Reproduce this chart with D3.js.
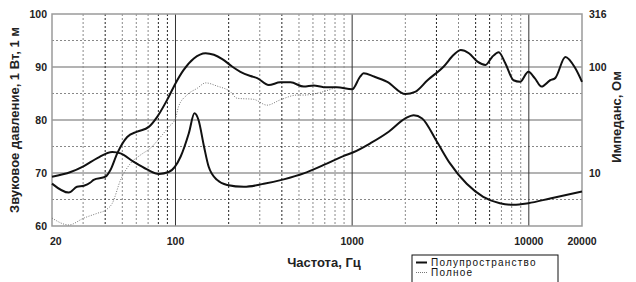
<!DOCTYPE html>
<html>
<head>
<meta charset="utf-8">
<script src="https://cdn.jsdelivr.net/npm/d3@7"></script>
<style>
  body { margin: 0; background: #fff; }
  svg { display: block; font-family: "Liberation Sans", Arial, sans-serif; }
</style>
</head>
<body>
<svg id="chart" width="636" height="282"></svg>
<script>

// frequency response, half-space (Hz, dB)
const halfFreq = [20, 24.9, 27.7, 30.3, 33, 34.4, 40.2, 42.9, 46.8, 53.3, 60.7, 70.6, 78.8, 89.7, 100, 111, 127, 148, 165, 184, 209, 233, 266, 290, 337, 392, 448, 532, 606, 690, 820, 1000, 1110, 1160, 1330, 1580, 2000, 2270, 2670, 3300, 3760, 4120, 4580, 5120, 5690, 6200, 6760, 7360, 8190, 8920, 9940, 10800, 11800, 13200, 14100, 16100, 18300, 20000]
const halfSpl = [68, 66.3, 67.4, 67.6, 68.2, 68.7, 69.3, 70.6, 73.7, 76.8, 77.8, 78.7, 80.6, 83.8, 86.9, 89.4, 91.6, 92.6, 92.3, 91.5, 90.1, 89.1, 88.3, 87.9, 86.6, 87.1, 87.1, 86.3, 86.5, 86.2, 86.2, 85.8, 88.2, 88.8, 88.2, 87.2, 84.9, 85.3, 87.5, 90.1, 92.3, 93.2, 92.6, 91, 90.4, 91.9, 92.8, 90.7, 87.5, 87.2, 89.1, 87.9, 86.3, 87.5, 87.9, 91.9, 89.8, 87.2]

// frequency response, full space (Hz, dB)
const fullFreq = [20, 24.9, 30.3, 36.1, 40.2, 43.9, 48.9, 55.6, 63.4, 72.2, 82.3, 91.6, 100, 104, 116, 133, 148, 172, 205, 223, 277, 330, 392, 488, 532, 660, 820]
const fullSpl = [61.5, 60.2, 61.5, 62.4, 63, 64.3, 68.7, 71.8, 73.4, 74.7, 76.8, 78.7, 80.3, 82.5, 84.7, 86, 87, 86.4, 85.3, 84.1, 83.9, 82.8, 83.8, 84.7, 84.7, 85.2, 86.2]

// impedance (Hz, Ohm)
const impFreq = [20, 25.5, 30.3, 36.1, 43.9, 48.9, 58.1, 69, 80.5, 91.6, 107, 119, 128, 135, 145, 154, 172, 196, 244, 316, 410, 532, 690, 897, 1000, 1270, 1610, 2000, 2230, 2490, 3020, 3580, 4450, 5520, 6860, 8190, 9940, 13200, 20000]
const impOhm = [9.2, 10.2, 11.6, 13.8, 15.8, 15.3, 12.7, 10.8, 9.8, 10.2, 14.3, 23.7, 36.5, 31.6, 17.8, 11.5, 8.6, 7.7, 7.4, 7.9, 8.7, 9.9, 11.9, 14.5, 15.5, 19.1, 24.5, 32.7, 35.1, 32.7, 19.7, 12.3, 7.9, 5.96, 5.19, 5.01, 5.19, 5.75, 6.68]

const xTickLabels = [20, 100, 1000, 10000, 20000]
const yTickLabels = [60, 70, 80, 90, 100]
const zTickLabels = [10, 100, 316]
const majorFreq = [100, 1000, 10000]
const minorFreq = [30, 40, 50, 60, 70, 80, 90, 200, 300, 400, 500, 600, 700, 800, 900, 2000, 3000, 4000, 5000, 6000, 7000, 8000, 9000]
const darkFreq = [40, 80, 90, 200, 400, 3000, 5000, 6000]
const solidDb = [70, 80, 90]
const dashedDb = [65, 75, 85, 95]

const svg = d3.select('#chart')

const plot = { left: 52, right: 582, top: 14, bottom: 226 }

const x = d3.scaleLog().domain([20, 20000]).range([plot.left, plot.right])
const y = d3.scaleLinear().domain([60, 100]).range([plot.bottom, plot.top])
const z = d3.scaleLog().domain([3.16, 316]).range([plot.bottom, plot.top])

// grid
const grid = svg.append('g')

grid.selectAll('.hs').data(solidDb).enter().append('line')
    .attr('x1', plot.left).attr('x2', plot.right)
    .attr('y1', d => y(d)).attr('y2', d => y(d))
    .attr('stroke', '#9a9a9a').attr('stroke-width', 1.5)

grid.selectAll('.hd').data(dashedDb).enter().append('line')
    .attr('x1', plot.left).attr('x2', plot.right)
    .attr('y1', d => y(d)).attr('y2', d => y(d))
    .attr('stroke', '#888').attr('stroke-width', 1)
    .attr('stroke-dasharray', '2,2')

grid.selectAll('.vd').data(minorFreq).enter().append('line')
    .attr('x1', d => x(d)).attr('x2', d => x(d))
    .attr('y1', plot.top).attr('y2', plot.bottom)
    .attr('stroke', d => darkFreq.includes(d) ? '#222' : '#8a8a8a')
    .attr('stroke-width', 1)
    .attr('stroke-dasharray', '2,2')

grid.selectAll('.vs').data(majorFreq).enter().append('line')
    .attr('x1', d => x(d)).attr('x2', d => x(d))
    .attr('y1', plot.top).attr('y2', plot.bottom)
    .attr('stroke', '#333').attr('stroke-width', 1)

svg.append('rect')
    .attr('x', plot.left).attr('y', plot.top)
    .attr('width', plot.right - plot.left).attr('height', plot.bottom - plot.top)
    .attr('fill', 'none').attr('stroke', '#9a9a9a').attr('stroke-width', 1.5)

// curves
const line = (ys) => d3.line().x(d => x(d[0])).y(d => ys(d[1])).curve(d3.curveMonotoneX)

svg.append('path')
    .datum(d3.zip(fullFreq, fullSpl))
    .attr('d', line(y))
    .attr('fill', 'none').attr('stroke', '#777').attr('stroke-width', 1)
    .attr('stroke-dasharray', '1,1.5')

svg.append('path')
    .datum(d3.zip(impFreq, impOhm))
    .attr('d', line(z))
    .attr('fill', 'none').attr('stroke', '#111').attr('stroke-width', 2)

svg.append('path')
    .datum(d3.zip(halfFreq, halfSpl))
    .attr('d', line(y))
    .attr('fill', 'none').attr('stroke', '#111').attr('stroke-width', 2)

// tick labels
const tickStyle = sel => sel
    .attr('font-size', 10.5).attr('font-weight', 'bold').attr('fill', '#222')

svg.selectAll('.xl').data(xTickLabels).enter().append('text')
    .attr('x', d => x(d)).attr('y', 245)
    .attr('text-anchor', d => d === 20 ? 'start' : 'middle')
    .attr('dx', d => d === 20 ? -2 : 0)
    .text(d => d)
    .call(tickStyle)

svg.selectAll('.yl').data(yTickLabels).enter().append('text')
    .attr('x', 47).attr('y', d => y(d) + 4)
    .attr('text-anchor', 'end')
    .text(d => d)
    .call(tickStyle)

svg.selectAll('.zl').data(zTickLabels).enter().append('text')
    .attr('x', 589).attr('y', d => z(d) + 4)
    .text(d => d)
    .call(tickStyle)

// axis titles
svg.append('text')
    .attr('transform', 'translate(19,120) rotate(-90)')
    .attr('text-anchor', 'middle')
    .attr('font-size', 13).attr('font-weight', 'bold').attr('fill', '#222')
    .text('Звуковое давление, 1 Вт, 1 м')

svg.append('text')
    .attr('transform', 'translate(621,117) rotate(-90)')
    .attr('text-anchor', 'middle')
    .attr('font-size', 13).attr('font-weight', 'bold').attr('fill', '#222')
    .text('Импеданс, Ом')

svg.append('text')
    .attr('x', 324).attr('y', 267)
    .attr('text-anchor', 'middle')
    .attr('font-size', 13).attr('font-weight', 'bold').attr('fill', '#222')
    .text('Частота, Гц')

// legend
const legend = svg.append('g')
legend.append('rect')
    .attr('x', 412).attr('y', 255).attr('width', 146).attr('height', 40)
    .attr('fill', '#fff').attr('stroke', '#111').attr('stroke-width', 1)

const legendItems = [
    { label: 'Полупространство', stroke: '#111', width: 2, dash: null },
    { label: 'Полное', stroke: '#777', width: 1, dash: '1,1' }
]

legendItems.forEach((it, i) => {
    const ly = 262.5 + i * 10
    legend.append('line')
        .attr('x1', 416).attr('x2', 427).attr('y1', ly).attr('y2', ly)
        .attr('stroke', it.stroke).attr('stroke-width', it.width)
        .attr('stroke-dasharray', it.dash)
    legend.append('text')
        .attr('x', 431).attr('y', ly + 3.5)
        .attr('font-size', 10).attr('letter-spacing', 1.2).attr('fill', '#111')
        .text(it.label)
})

</script>
</body>
</html>
